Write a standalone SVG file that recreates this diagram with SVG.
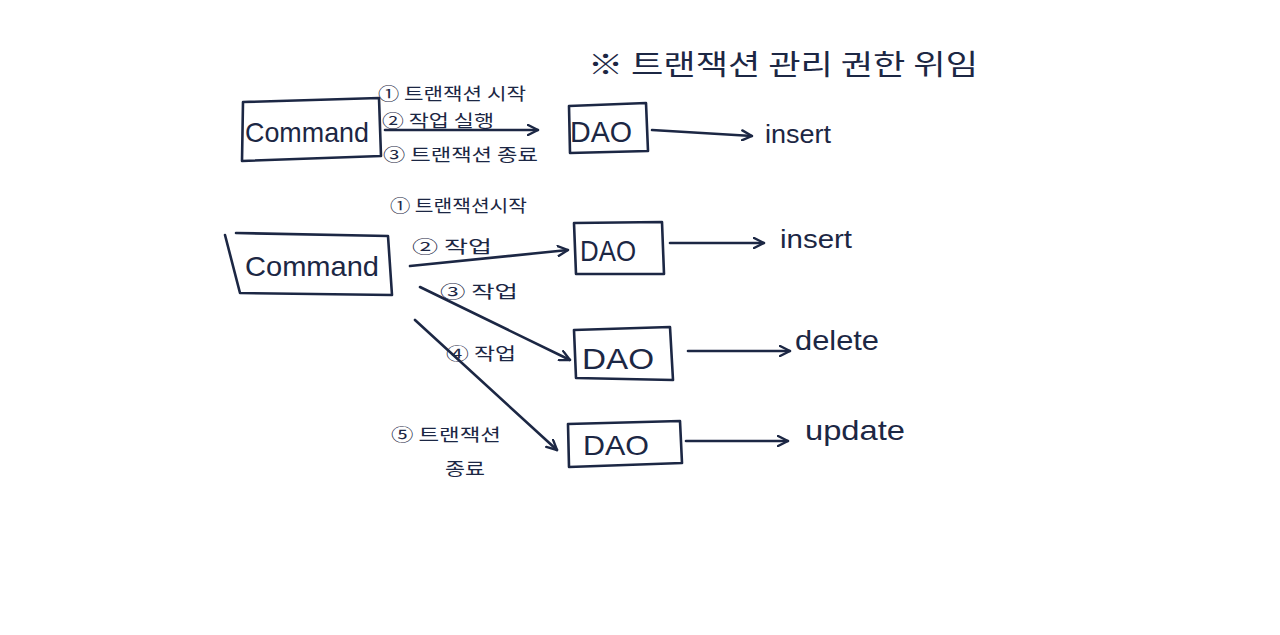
<svg xmlns="http://www.w3.org/2000/svg" width="1280" height="635" viewBox="0 0 1280 635">
<defs>
<style>
.ln{fill:none;stroke:#1c2744;stroke-width:2.6;stroke-linecap:round;stroke-linejoin:round}
.box{fill:none;stroke:#1c2744;stroke-width:2.6;stroke-linejoin:round;stroke-linecap:round}
.t{fill:#1c2744;font-family:"Liberation Sans","Noto Sans CJK KR",sans-serif}
.k{fill:#1c2744;font-family:"Noto Sans CJK KR","Noto Sans",sans-serif}
.big{font-size:28px}
.lbl{font-size:17px}
</style>
<marker id="ah" viewBox="0 0 12 12" refX="11" refY="6" markerWidth="12" markerHeight="12" markerUnits="userSpaceOnUse" orient="auto">
<path d="M1,1 L11,6 L1,11" fill="none" stroke="#1c2744" stroke-width="2.4" stroke-linecap="round" stroke-linejoin="round"/>
</marker>
</defs>
<rect width="1280" height="635" fill="#ffffff"/>

<g id="title">
<text class="k" x="588" y="75" font-size="28" textLength="390" lengthAdjust="spacingAndGlyphs">※ 트랜잭션 관리 권한 위임</text>
</g>

<g id="command1">
<path class="box" d="M243,102 L379,98 L381,156 L242,161 Z"/>
<text class="t big" x="245" y="142" textLength="124" lengthAdjust="spacingAndGlyphs">Command</text>
</g>

<g id="labels1">
<text class="k lbl" x="378" y="100" textLength="148" lengthAdjust="spacingAndGlyphs">① 트랜잭션 시작</text>
<text class="k lbl" x="382" y="127" textLength="112" lengthAdjust="spacingAndGlyphs">② 작업 실행</text>
<text class="k lbl" x="383" y="161" textLength="155" lengthAdjust="spacingAndGlyphs">③ 트랜잭션 종료</text>
</g>

<g id="dao1">
<path class="box" d="M569,106 L646,103 L648,151 L570,153 Z"/>
<text class="t" x="570" y="142" font-size="30" textLength="62" lengthAdjust="spacingAndGlyphs">DAO</text>
</g>
<g id="insert1">
<text class="t" x="765" y="143" font-size="26" textLength="66" lengthAdjust="spacingAndGlyphs">insert</text>
</g>

<g id="labels2">
<text class="k lbl" x="390" y="212" textLength="137" lengthAdjust="spacingAndGlyphs">① 트랜잭션시작</text>
<text class="k lbl" x="412" y="253" textLength="80" lengthAdjust="spacingAndGlyphs">② 작업</text>
<text class="k lbl" x="440" y="298" textLength="78" lengthAdjust="spacingAndGlyphs">③ 작업</text>
<text class="k lbl" x="446" y="360" textLength="70" lengthAdjust="spacingAndGlyphs">④ 작업</text>
<text class="k lbl" x="391" y="441" textLength="110" lengthAdjust="spacingAndGlyphs">⑤ 트랜잭션</text>
<text class="k lbl" x="445" y="475" textLength="40" lengthAdjust="spacingAndGlyphs">종료</text>
</g>

<g id="command2">
<path class="box" d="M236,233 L388,236 L392,295 L240,293 L225,235"/>
<text class="t big" x="245" y="276" textLength="134" lengthAdjust="spacingAndGlyphs">Command</text>
</g>

<g id="dao2">
<path class="box" d="M574,223 L662,222 L664,274 L576,274 Z"/>
<text class="t" x="580" y="261" font-size="30" textLength="56" lengthAdjust="spacingAndGlyphs">DAO</text>
</g>
<g id="insert2">
<text class="t" x="780" y="248" font-size="26" textLength="72" lengthAdjust="spacingAndGlyphs">insert</text>
</g>

<g id="dao3">
<path class="box" d="M574,330 L670,327 L673,380 L576,378 Z"/>
<text class="t" x="582" y="369" font-size="30" textLength="72" lengthAdjust="spacingAndGlyphs">DAO</text>
</g>
<g id="delete">
<text class="t" x="795" y="350" font-size="28" textLength="84" lengthAdjust="spacingAndGlyphs">delete</text>
</g>

<g id="dao4">
<path class="box" d="M568,424 L680,421 L682,463 L569,467 Z"/>
<text class="t" x="583" y="455" font-size="28" textLength="66" lengthAdjust="spacingAndGlyphs">DAO</text>
</g>
<g id="update">
<text class="t" x="805" y="440" font-size="28" textLength="100" lengthAdjust="spacingAndGlyphs">update</text>
</g>

<g id="connectors">
<path class="ln" d="M385,130 L538,130" marker-end="url(#ah)"/>
<path class="ln" d="M652,130 L752,136" marker-end="url(#ah)"/>
<path class="ln" d="M410,266 L568,250" marker-end="url(#ah)"/>
<path class="ln" d="M670,243 L764,243" marker-end="url(#ah)"/>
<path class="ln" d="M420,287 L570,360" marker-end="url(#ah)"/>
<path class="ln" d="M688,351 L790,351" marker-end="url(#ah)"/>
<path class="ln" d="M415,320 L557,450" marker-end="url(#ah)"/>
<path class="ln" d="M686,441 L788,441" marker-end="url(#ah)"/>
</g>
</svg>
